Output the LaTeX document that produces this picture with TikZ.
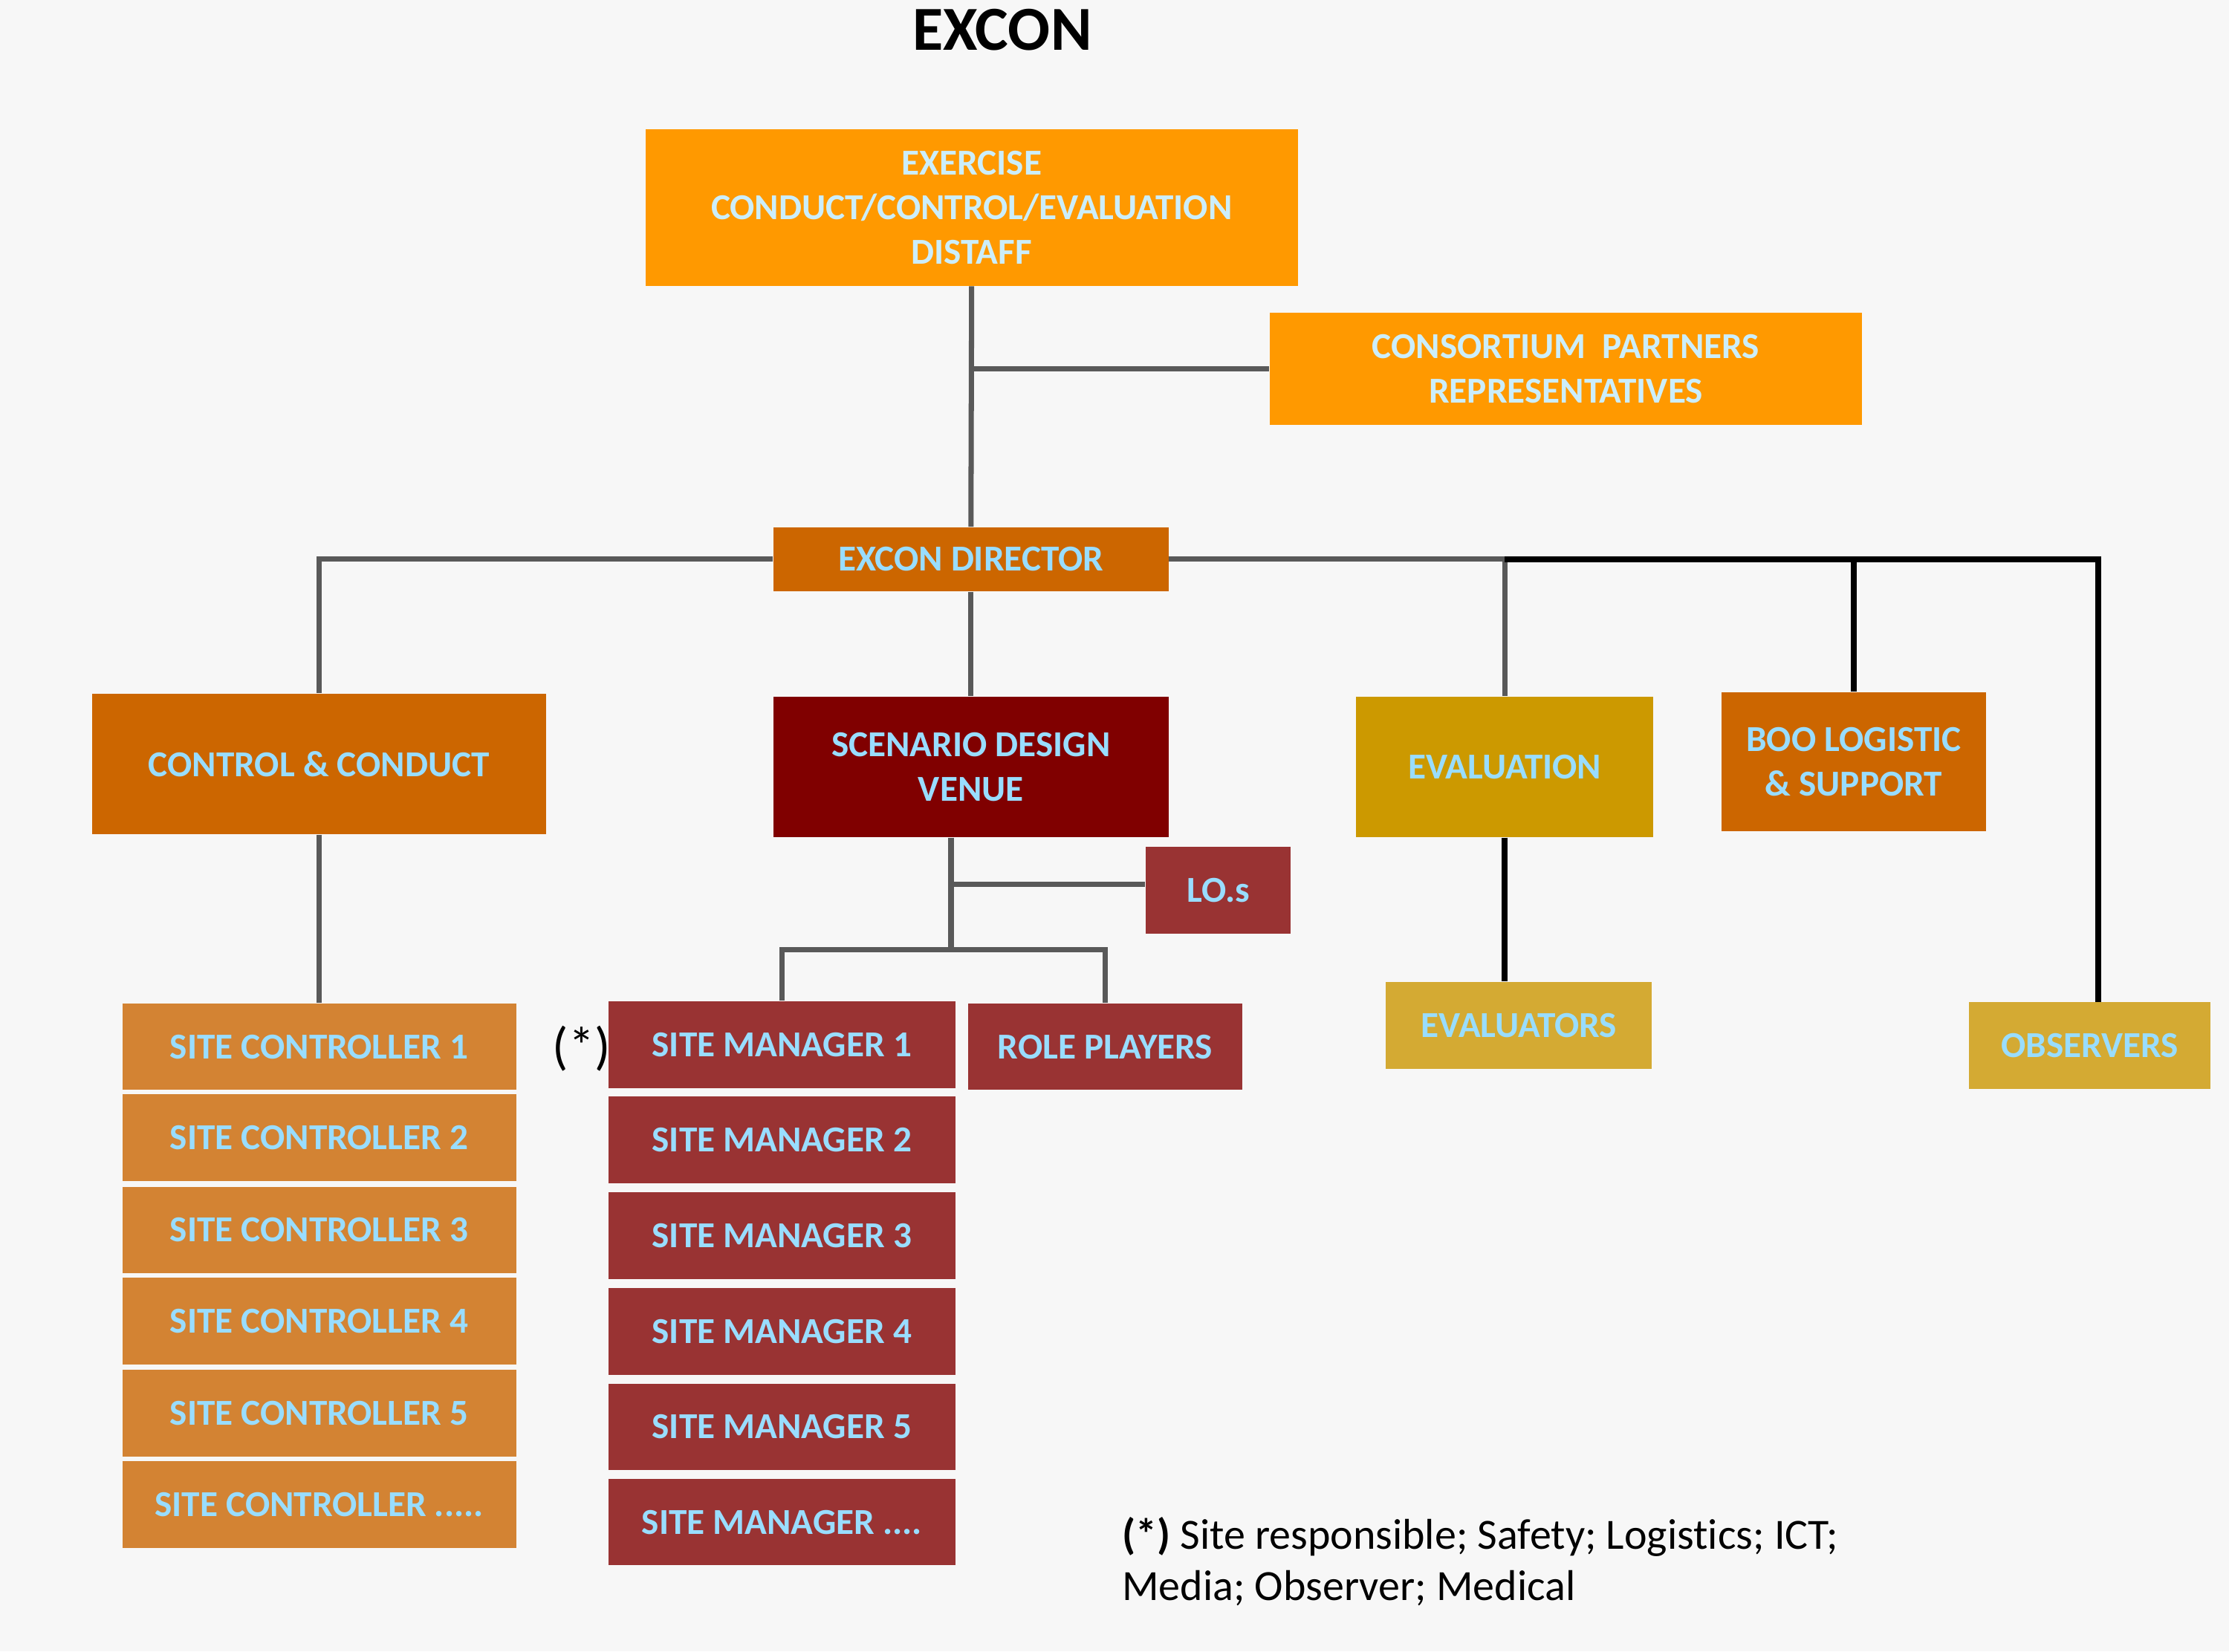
\documentclass[tikz,border=0pt]{standalone}
\usepackage{fontspec}
\setmainfont{Carlito}[Ligatures=NoCommon]
\usetikzlibrary{positioning, calc}
\definecolor{bgpaper}{HTML}{F7F7F7}
\definecolor{distaffamber}{HTML}{FF9900}
\definecolor{directorrust}{HTML}{CC6600}
\definecolor{scenariomaroon}{HTML}{800000}
\definecolor{managerred}{HTML}{993333}
\definecolor{evalgold}{HTML}{CC9900}
\definecolor{observergold}{HTML}{D4AA33}
\definecolor{controllertan}{HTML}{D38333}
\definecolor{labelblue}{HTML}{99DDFF}
\definecolor{palelabel}{HTML}{CCEEFB}
\definecolor{linkgrey}{HTML}{595959}

\newlength{\pu}\setlength{\pu}{0.019133cm}

\tikzset{
  blk/.style 2 args={minimum width=#1*\pu, minimum height=#2*\pu, inner sep=0pt,
    align=center, font=\bfseries\fontsize{14}{17}\selectfont, text=labelblue},
  link/.style={linkgrey, line width=2pt},
  boldlink/.style={black, line width=2.4pt},
}

\begin{document}
\begin{tikzpicture}[x=0.019133cm, y=-0.019133cm]
  % Paper
  \fill[bgpaper] (0,0) rectangle (1568,1162);
  \useasboundingbox (0,0) rectangle (1568,1162);

  % Title
  \node[font=\bfseries\fontsize{24}{28}\selectfont] (title) at (705,21) {EXCON};

  % Distaff and partners
  \node[blk={459}{110}, fill=distaffamber, text=palelabel] (top) at (683.5,146)
    {EXERCISE\\CONDUCT/CONTROL/EVALUATION\\DISTAFF};
  \node[blk={417}{79}, fill=distaffamber, text=palelabel] (cons) at (1101.5,259.5)
    {CONSORTIUM\ \ PARTNERS\\REPRESENTATIVES};

  % Director
  \node[blk={278}{45}, fill=directorrust] (dir) at (683,393.5) {EXCON DIRECTOR};

  % Second level
  \node[blk={319}{99}, fill=directorrust] (cc) at (224.5,537.5) {CONTROL \& CONDUCT};
  \node[blk={278}{99}, fill=scenariomaroon] (scn) at (683,539.5) {SCENARIO DESIGN\\VENUE};
  \node[blk={102}{61}, fill=managerred] (los) at (857,626.5) {LO.s};
  \node[blk={209}{99}, fill=evalgold] (eval) at (1058.5,539.5) {EVALUATION};
  \node[blk={186}{98}, fill=directorrust] (boo) at (1304,536) {BOO LOGISTIC\\\& SUPPORT};
  \node[blk={187}{61}, fill=observergold] (evr) at (1068.5,721.5) {EVALUATORS};
  \node[blk={170}{61}, fill=observergold] (obs) at (1470,735.5) {OBSERVERS};

  % Site controllers
  \node[blk={277}{61}, fill=controllertan] (sc1) at (224.5,736.5) {SITE CONTROLLER 1};
  \node[blk={277}{61}, fill=controllertan] (sc2) at (224.5,800.5) {SITE CONTROLLER 2};
  \node[blk={277}{61}, fill=controllertan] (sc3) at (224.5,865.5) {SITE CONTROLLER 3};
  \node[blk={277}{61}, fill=controllertan] (sc4) at (224.5,929.5) {SITE CONTROLLER 4};
  \node[blk={277}{61}, fill=controllertan] (sc5) at (224.5,994.5) {SITE CONTROLLER 5};
  \node[blk={277}{61}, fill=controllertan] (sc6) at (224.5,1058.5) {SITE CONTROLLER .....};

  % Site managers
  \node[blk={244}{61}, fill=managerred] (sm1) at (550,735) {SITE MANAGER 1};
  \node[blk={244}{61}, fill=managerred] (sm2) at (550,802) {SITE MANAGER 2};
  \node[blk={244}{61}, fill=managerred] (sm3) at (550,869.5) {SITE MANAGER 3};
  \node[blk={244}{61}, fill=managerred] (sm4) at (550,937) {SITE MANAGER 4};
  \node[blk={244}{61}, fill=managerred] (sm5) at (550,1004) {SITE MANAGER 5};
  \node[blk={244}{61}, fill=managerred] (sm6) at (550,1071) {SITE MANAGER ....};
  \node[blk={193}{61}, fill=managerred] (rp) at (777.5,736.5) {ROLE PLAYERS};
  \node[font=\fontsize{20}{24}\selectfont, inner sep=0pt] (star) at (409,738) {(*)};

  % Footnote
  \node[anchor=north west, align=left, inner sep=0pt,
    font=\fontsize{16.5}{19.6}\selectfont] (note) at (789,1067)
    {\textbf{(*)} Site responsible; Safety; Logistics; ICT;\\Media; Observer; Medical};

  % Connections
  \coordinate (sbar) at (669,668);
  \coordinate (lotap) at (669,622);
  \coordinate (obstap) at (1476,705);
  \draw[link] (top.south) -- (dir.north);
  \draw[link] (top.south |- cons.west) -- (cons.west);
  \draw[link] (dir.west) -| (cc.north);
  \draw[link] (cc.south) -- (sc1.north);
  \draw[link] (dir.south) -- (scn.north);
  \draw[link] (scn.south -| sbar) -- (sbar);
  \draw[link] (lotap) -- (lotap -| los.west);
  \draw[link] (sm1.north) |- (sbar) -| (rp.north);
  \draw[link] (dir.east) -- (dir.east -| eval.north) -- (eval.north);
  \draw[boldlink] (dir.east -| eval.north) -- (dir.east -| obstap) -- (obstap);
  \draw[boldlink] (dir.east -| boo.north) -- (boo.north);
  \draw[boldlink] (eval.south) -- (eval.south |- evr.north);
\end{tikzpicture}
\end{document}
